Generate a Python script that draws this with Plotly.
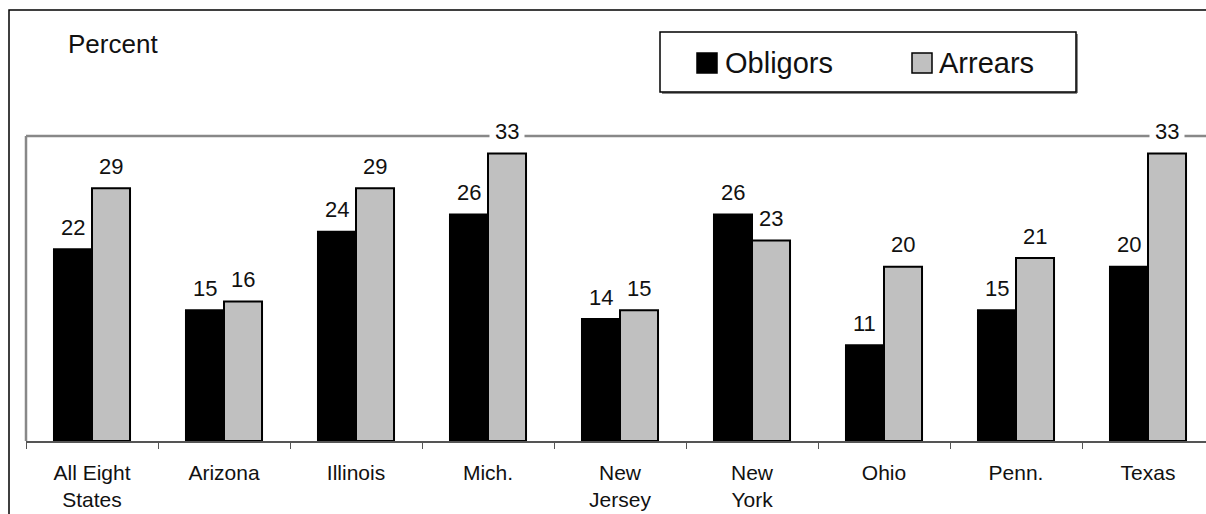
import plotly.graph_objects as go

categories = ["All Eight<br>States", "Arizona", "Illinois", "Mich.", "New<br>Jersey",
              "New<br>York", "Ohio", "Penn.", "Texas"]
obligors = [22, 15, 24, 26, 14, 26, 11, 15, 20]
arrears = [29, 16, 29, 33, 15, 23, 20, 21, 33]
series_names = ["Obligors", "Arrears"]

W, H = 1206, 514
L, R, T = 26, 0, 136
B = H - 441
pw = W - L - R
ph = H - T - B
cat_px = 132.0
FONT = "Liberation Sans, Arial"


def px_x(px):
    return (px - L) / pw


def px_y(py):
    return (H - B - py) / ph


fig = go.Figure()
fig.add_trace(go.Bar(x=categories, y=obligors, name=series_names[0],
                     marker=dict(color="#000000", line=dict(color="#000000", width=2)),
                     showlegend=False))
fig.add_trace(go.Bar(x=categories, y=arrears, name=series_names[1],
                     marker=dict(color="#c0c0c0", line=dict(color="#000000", width=2)),
                     showlegend=False))

annotations = []
bar_px = cat_px * (1 - 0.424) / 2
for vals, sgn in ((obligors, -1), (arrears, 1)):
    for c, v in zip(categories, vals):
        annotations.append(dict(x=c, y=v, xref="x", yref="y", text=str(v), showarrow=False,
                                yanchor="middle", xanchor="center", xshift=sgn * bar_px / 2,
                                yshift=22, bgcolor="white", borderpad=5,
                                font=dict(family=FONT, size=22, color="#111111")))

annotations.append(dict(x=px_x(66), y=px_y(44), xref="paper", yref="paper", text="Percent",
                        showarrow=False, xanchor="left", yanchor="middle",
                        font=dict(family=FONT, size=26, color="#111111")))
annotations.append(dict(x=px_x(723), y=px_y(63), xref="paper", yref="paper", text=series_names[0],
                        showarrow=False, xanchor="left", yanchor="middle",
                        font=dict(family=FONT, size=29, color="#111111")))
annotations.append(dict(x=px_x(937), y=px_y(63), xref="paper", yref="paper", text=series_names[1],
                        showarrow=False, xanchor="left", yanchor="middle",
                        font=dict(family=FONT, size=29, color="#111111")))

shapes = [
    # outer border
    dict(type="rect", xref="paper", yref="paper", x0=px_x(9), x1=px_x(1230), y0=px_y(530), y1=px_y(10),
         line=dict(color="#000000", width=1.5), layer="below"),
    # plot area top & left border
    dict(type="line", xref="paper", yref="paper", x0=px_x(26), x1=px_x(1210), y0=px_y(136), y1=px_y(136),
         line=dict(color="#888888", width=2.5), layer="below"),
    dict(type="line", xref="paper", yref="paper", x0=px_x(26), x1=px_x(26), y0=px_y(136), y1=px_y(441),
         line=dict(color="#888888", width=2.5), layer="below"),
    # legend shadow
    dict(type="line", xref="paper", yref="paper", x0=px_x(1077), x1=px_x(1077), y0=px_y(34), y1=px_y(93),
         line=dict(color="#888888", width=2)),
    dict(type="line", xref="paper", yref="paper", x0=px_x(662), x1=px_x(1077), y0=px_y(93), y1=px_y(93),
         line=dict(color="#888888", width=2)),
    # legend box
    dict(type="rect", xref="paper", yref="paper", x0=px_x(660), x1=px_x(1076), y0=px_y(92), y1=px_y(32),
         line=dict(color="#000000", width=1.5), fillcolor="rgba(0,0,0,0)"),
    # legend swatches
    dict(type="rect", xref="paper", yref="paper", x0=px_x(697), x1=px_x(717), y0=px_y(73), y1=px_y(53),
         line=dict(color="#000000", width=1.5), fillcolor="#000000"),
    dict(type="rect", xref="paper", yref="paper", x0=px_x(912), x1=px_x(932), y0=px_y(73), y1=px_y(53),
         line=dict(color="#000000", width=1.5), fillcolor="#c0c0c0"),
]

fig.update_layout(
    width=W, height=H,
    margin=dict(l=L, r=R, t=T, b=B, pad=0),
    paper_bgcolor="white", plot_bgcolor="white",
    barmode="group", bargap=0.424, bargroupgap=0,
    annotations=annotations, shapes=shapes,
    xaxis=dict(range=[-0.5, -0.5 + pw / cat_px], showgrid=False, zeroline=False,
               showline=True, linecolor="#555555", linewidth=1.5,
               ticks="outside", tickson="boundaries", ticklen=6, tickcolor="#555555", tickwidth=1,
               ticklabelstandoff=12,
               tickfont=dict(family=FONT, size=21, color="#111111"),
               fixedrange=True),
    yaxis=dict(range=[0, 35], showgrid=False, zeroline=False, showline=False,
               showticklabels=False, ticks="", fixedrange=True),
    font=dict(family=FONT),
    showlegend=False,
)

fig.write_html(
    "out.html",
    config={"displayModeBar": False, "staticPlot": True},
    post_script="document.body.style.margin='0';document.body.style.overflow='hidden';",
)
